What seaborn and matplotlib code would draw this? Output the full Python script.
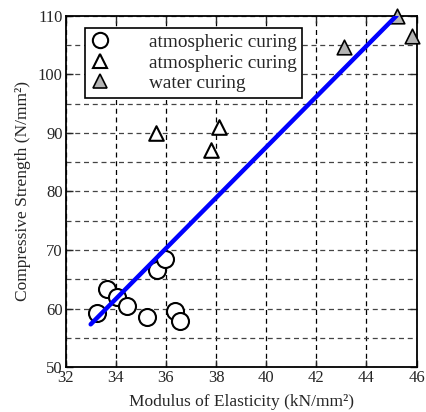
import numpy as np
import matplotlib
matplotlib.use("Agg")
import matplotlib.pyplot as plt
import seaborn as sns
import pandas as pd
from matplotlib.lines import Line2D

# atmospheric curing (circles)
circ_e = [33.25, 33.65, 34.05, 34.45, 35.25, 35.65, 35.95, 36.35, 36.55]
circ_s = [59.3, 63.3, 62.0, 60.4, 58.6, 66.6, 68.5, 59.6, 57.8]

# atmospheric curing (open triangles)
tri_e = [35.6, 37.8, 38.1]
tri_s = [90.0, 87.0, 91.0]

# water curing (grey triangles)
wat_e = [43.1, 45.2, 45.8]
wat_s = [104.7, 110.0, 106.6]

# regression line end points
fit_e = [33.0, 45.2]
fit_s = [57.3, 110.0]

x_ticks = [32, 34, 36, 38, 40, 42, 44, 46]
y_ticks = [50, 60, 70, 80, 90, 100, 110]

sns.set_style("ticks")
plt.rcParams['font.family'] = ['Liberation Serif', 'DejaVu Serif']

fig = plt.figure(figsize=(4.26, 4.12), dpi=100)
ax = fig.add_axes([0.154, 0.109, 0.824, 0.853])

df_c = pd.DataFrame({'E': circ_e, 'S': circ_s})
df_t = pd.DataFrame({'E': tri_e, 'S': tri_s})
df_w = pd.DataFrame({'E': wat_e, 'S': wat_s})
df_f = pd.DataFrame({'E': fit_e, 'S': fit_s})

sns.scatterplot(data=df_c, x='E', y='S', ax=ax, marker='o', s=150,
                facecolor='white', edgecolor='black', linewidth=1.5, zorder=3, clip_on=False)
sns.scatterplot(data=df_t, x='E', y='S', ax=ax, marker='^', s=110,
                facecolor='white', edgecolor='black', linewidth=1.5, zorder=3, clip_on=False)
sns.scatterplot(data=df_w, x='E', y='S', ax=ax, marker='^', s=110,
                facecolor='#b4b4b4', edgecolor='black', linewidth=1.2, zorder=3, clip_on=False)
sns.lineplot(data=df_f, x='E', y='S', ax=ax, color='#0000ff', linewidth=3.2,
             zorder=4, solid_capstyle='round')

ax.set_xlim(32, 46)
ax.set_ylim(50, 110)
ax.set_xticks(x_ticks)
ax.set_yticks(y_ticks)
ax.set_yticks([55, 65, 75, 85, 95, 105], minor=True)
ax.grid(True, which='major', axis='x', color='black', linestyle=(0, (4, 3)), linewidth=0.9)
ax.grid(True, which='both', axis='y', color='#444444', linestyle=(0, (4, 3)), linewidth=0.9)
ax.tick_params(which='both', direction='in', top=True, right=True, labelsize=12,
               length=5, width=1, pad=2)
ax.tick_params(which='minor', length=0)
for sp in ax.spines.values():
    sp.set_linewidth(1.3)
    sp.set_color('black')

ax.set_xlabel('Modulus of Elasticity (kN/mm²)', fontsize=12.5, labelpad=6)
ax.set_ylabel('Compressive Strength (N/mm²)', fontsize=12.5, labelpad=5)

handles = [
    Line2D([], [], marker='o', linestyle='none', markersize=11,
           markerfacecolor='white', markeredgecolor='black', markeredgewidth=1.5),
    Line2D([], [], marker='^', linestyle='none', markersize=10,
           markerfacecolor='white', markeredgecolor='black', markeredgewidth=1.5),
    Line2D([], [], marker='^', linestyle='none', markersize=10,
           markerfacecolor='#b4b4b4', markeredgecolor='black', markeredgewidth=1.2),
]
labels = ['atmospheric curing', 'atmospheric curing', 'water curing']
leg = ax.legend(handles, labels, loc='upper left', bbox_to_anchor=(0.055, 0.966),
                fontsize=13.9, frameon=True, fancybox=False, framealpha=1,
                edgecolor='black', handletextpad=2.0, labelspacing=0.16,
                borderpad=0.3, handlelength=1.0, borderaxespad=0)
leg.get_frame().set_linewidth(1.2)

fig.savefig('out.png', dpi=100)
